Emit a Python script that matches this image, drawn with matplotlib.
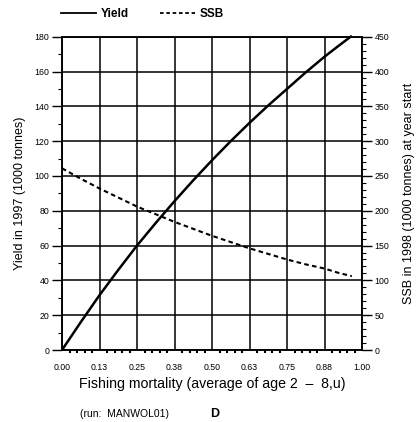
import matplotlib
matplotlib.use("Agg")
import matplotlib.pyplot as plt
from matplotlib.ticker import MultipleLocator, FixedLocator
from matplotlib.lines import Line2D

plt.rcParams['font.family'] = ['Liberation Sans', 'DejaVu Sans']

# Fishing mortality and model outputs
fishing_mortality = [0.0, 0.0625, 0.125, 0.1875, 0.25, 0.3125, 0.375, 0.4375, 0.5,
                     0.5625, 0.625, 0.6875, 0.75, 0.8125, 0.875, 0.92, 0.966]
yield_1997 = [0, 16, 31.5, 46, 60, 73, 85.5, 97.5, 109,
              120, 130.5, 140.5, 150, 159.5, 168.5, 174.5, 180.5]
ssb_1998 = [261, 246, 232, 219, 206, 195, 184, 174, 164,
            155, 146, 138, 130, 123, 117, 111, 106]

x_ticks = [0.0, 0.125, 0.25, 0.375, 0.5, 0.625, 0.75, 0.875, 1.0]
x_tick_labels = ['0.00', '0.13', '0.25', '0.38', '0.50', '0.63', '0.75', '0.88', '1.00']

fig = plt.figure(figsize=(4.16, 4.22), dpi=100)
ax = fig.add_axes([62/416, 1-350/422, 300/416, 313.3/422])
ax2 = ax.twinx()

ax.set_xlim(0, 1)
ax.set_ylim(0, 180)
ax2.set_ylim(0, 450)

# Grid
ax.xaxis.set_major_locator(FixedLocator(x_ticks))
ax.set_xticklabels(x_tick_labels)
ax.xaxis.set_minor_locator(MultipleLocator(0.025))
ax.yaxis.set_major_locator(MultipleLocator(20))
ax.yaxis.set_minor_locator(MultipleLocator(10))
ax2.yaxis.set_major_locator(MultipleLocator(50))
ax2.yaxis.set_minor_locator(MultipleLocator(10))
ax.grid(True, which='major', color='black', linewidth=1.1)
ax.set_axisbelow(True)

for a in (ax, ax2):
    for s in a.spines.values():
        s.set_linewidth(1.1)

ax.tick_params(axis='y', which='major', length=7, width=1.0, labelsize=6.3, pad=2)
ax.tick_params(axis='y', which='minor', length=3, width=0.8)
ax.tick_params(axis='x', which='major', length=0, labelsize=6.3, pad=9)
ax.tick_params(axis='x', which='minor', length=2, width=1.5, direction='out')
ax2.tick_params(axis='y', which='major', length=7, width=1.0, labelsize=6.3, pad=2)
ax2.tick_params(axis='y', which='minor', length=3, width=0.8)

# Curves
ax.plot(fishing_mortality, yield_1997, color='black', linewidth=1.8,
        solid_capstyle='butt', solid_joinstyle='round', clip_on=False)
ax2.plot(fishing_mortality, ssb_1998, color='black', linewidth=1.5, linestyle=(0, (2.2, 1.6)))

ax.set_ylabel('Yield in 1997 (1000 tonnes)', fontsize=9, labelpad=6)
ax2.set_ylabel('SSB in 1998 (1000 tonnes) at year start', fontsize=9, labelpad=10)
ax.set_xlabel('Fishing mortality (average of age 2  \u2013  8,u)', fontsize=10.2, labelpad=4)

# Legend above the plot
handles = [Line2D([], [], color='black', linewidth=1.3),
           Line2D([], [], color='black', linewidth=1.3, linestyle=(0, (2, 1.5)))]
fig.legend(handles, ['Yield', 'SSB'], loc='center left', bbox_to_anchor=(50/416, 1-14/422),
           ncol=2, frameon=False, handlelength=3.0, handletextpad=0.4, columnspacing=2.6,
           prop={'size': 8.5, 'weight': 'bold'})

fig.text(80/416, 1-414/422, '(run:  MANWOL01)', fontsize=7.5, va='center', ha='left')
fig.text(210/416, 1-414/422, 'D', fontsize=9, fontweight='bold', va='center', ha='left')

fig.savefig('out.png', dpi=100)
